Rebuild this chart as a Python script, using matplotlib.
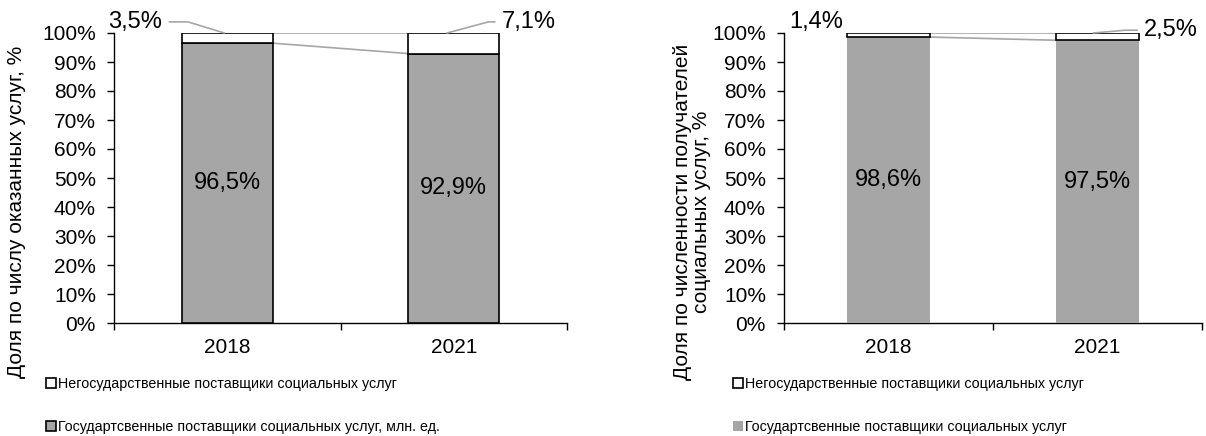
import matplotlib
matplotlib.use("Agg")
import matplotlib.pyplot as plt
from matplotlib.patches import Rectangle
from matplotlib.ticker import PercentFormatter, FixedLocator

plt.rcParams['font.family'] = ['Liberation Sans', 'DejaVu Sans']

years = ["2018", "2021"]
# left chart: share by number of services provided
left_state = [96.5, 92.9]
left_nonstate = [3.5, 7.1]
# right chart: share by number of recipients
right_state = [98.6, 97.5]
right_nonstate = [1.4, 2.5]

left_ylabel = "Доля по числу оказанных услуг, %"
right_ylabel = "Доля по численности получателей\nсоциальных услуг, %"
legend_nonstate = "Негосударственные поставщики социальных услуг"
legend_state_left = "Государтсвенные поставщики социальных услуг, млн. ед."
legend_state_right = "Государтсвенные поставщики социальных услуг"

GRAY = "#A6A6A6"
LINE_GRAY = "#A6A6A6"
TICK_FS = 15
LABEL_FS = 17

W, H = 1206, 436
fig = plt.figure(figsize=(W / 100, H / 100), dpi=100)


def fmt(v):
    return f"{v:.1f}".replace(".", ",") + "%"


def make_axes(rect, state, nonstate, gray_edge, label_specs):
    ax = fig.add_axes(rect)
    x = list(range(len(years)))
    bw = 0.4
    ax.bar(x, state, width=bw, color=GRAY,
           edgecolor="black" if gray_edge else GRAY,
           linewidth=1.2 if gray_edge else 0.0, zorder=3)
    ax.bar(x, nonstate, width=bw, bottom=state, color="white",
           edgecolor="black", linewidth=1.2, zorder=3)
    # series connector lines
    tops = [s + n for s, n in zip(state, nonstate)]
    for levels in (state, tops):
        ax.plot([x[0] + bw / 2, x[1] - bw / 2], [levels[0], levels[1]],
                color=LINE_GRAY, lw=1.2, zorder=2)
    # inner labels
    for xi, s in zip(x, state):
        ax.text(xi, s / 2, fmt(s), ha="center", va="center", fontsize=LABEL_FS, zorder=4)
    # outer labels
    for xi, s, n, spec in zip(x, state, nonstate, label_specs):
        dx, dy, xoff, angB, arrow = spec
        xy = (xi + xoff, s + n)
        kw = dict(xy=xy, xytext=(dx, dy), textcoords="offset points",
                  ha="center", va="center", fontsize=LABEL_FS,
                  annotation_clip=False, zorder=5)
        if arrow:
            kw["arrowprops"] = dict(arrowstyle="-", color=LINE_GRAY, lw=1.2,
                                    shrinkA=3, shrinkB=0,
                                    connectionstyle=f"angle,angleA=0,angleB={angB},rad=0")
        ax.annotate(fmt(n), **kw)
    ax.set_xlim(-0.5, len(years) - 0.5)
    ax.set_ylim(0, 100)
    ax.yaxis.set_major_locator(FixedLocator(list(range(0, 101, 10))))
    ax.yaxis.set_major_formatter(PercentFormatter(decimals=0))
    ax.set_xticks(x)
    ax.set_xticklabels(years)
    ax.set_xticks([i - 0.5 for i in range(len(years) + 1)], minor=True)
    ax.tick_params(axis="x", which="major", length=0, labelsize=TICK_FS, pad=11)
    ax.tick_params(axis="x", which="minor", length=5, width=1, direction="out")
    ax.tick_params(axis="y", length=5, width=1, direction="out", labelsize=TICK_FS, pad=8)
    for sp in ("top", "right"):
        ax.spines[sp].set_visible(False)
    for sp in ("left", "bottom"):
        ax.spines[sp].set_linewidth(1.0)
    ax.set_facecolor("none")
    return ax


ax1 = make_axes([114 / W, 1 - 323 / H, (567 - 114) / W, 290 / H],
                left_state, left_nonstate, True,
                [(-64, 8, -0.013, 163, True), (59, 8, -0.03, 15, True)])
ax2 = make_axes([784 / W, 1 - 323 / H, (1202 - 784) / W, 290 / H],
                right_state, right_nonstate, False,
                [(-52, 8, 0.0, 0, False), (56, 2, -0.02, 5, True)])

fig.text(17 / W, 1 - 212 / H, left_ylabel, rotation=90, ha="center", va="center",
         fontsize=TICK_FS)
fig.text(692 / W, 1 - 212 / H, right_ylabel, rotation=90, ha="center", va="center",
         fontsize=TICK_FS, linespacing=1.0)


def legend_block(x0, state_label, state_edge):
    h_nonstate = Rectangle((0, 0), 1, 1, facecolor="white", edgecolor="black", lw=1.2)
    h_state = Rectangle((0, 0), 1, 1, facecolor=GRAY,
                        edgecolor="black" if state_edge else GRAY,
                        lw=1.2 if state_edge else 0)
    fig.legend([h_nonstate, h_state], [legend_nonstate, state_label],
               loc="upper left", bbox_to_anchor=(x0 / W, 1 - 377 / H),
               frameon=False, fontsize=10.3, handlelength=0.7, handleheight=0.7,
               handletextpad=0.15, labelspacing=2.05, borderpad=0, borderaxespad=0)


legend_block(46, legend_state_left, True)
legend_block(733, legend_state_right, False)

fig.savefig("out.png", dpi=100)
